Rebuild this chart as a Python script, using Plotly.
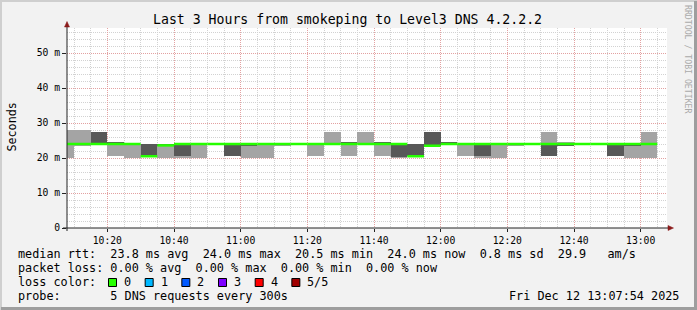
import plotly.graph_objects as go
import pandas as pd

# ---------------- data ----------------
bin_starts = pd.date_range("2025-12-12 10:05:00", periods=36, freq="5min")
# five sorted pings per 5-minute bin (ms)
ping1 = [20, 23.5, 24, 20.6, 20, 20.5, 20, 20, 20, 24, 20.6, 20, 20, 23.5, 24, 20.5, 24, 20.5,
         24, 20.5, 20, 20.5, 23.5, 24, 20.5, 20, 20, 23.5, 24, 20.5, 23.7, 24, 24, 20.5, 20, 20]
ping2 = [24, 24, 24, 24, 24, 20.5, 23.6, 20.6, 24, 24, 20.6, 23.5, 24, 24, 24, 24, 24, 24,
         24, 24, 20.3, 20.5, 23.5, 24, 24, 20.5, 24, 24, 24, 20.5, 23.7, 24, 24, 20.5, 23.5, 24]
median = [24, 24, 24, 24, 24, 20.5, 23.6, 24, 24, 24, 24, 24, 24, 24, 24, 24, 24, 24,
          24, 24, 24, 20.5, 23.5, 24, 24, 24, 24, 24, 24, 24, 24, 24, 24, 24, 24, 24]
ping4 = [24, 24, 27.5, 24.5, 24, 24, 24, 24, 24, 24, 24, 24, 24, 24, 24, 24, 24, 24.5,
         24, 24.5, 24, 24, 27.5, 24.6, 24, 24, 24, 24, 24, 24, 24, 24, 24, 24, 24, 24]
ping5 = [28, 28, 27.5, 24.5, 24, 24, 24, 24, 24, 24, 24, 24, 24, 24, 24, 24, 27.5, 24.5,
         27.5, 24.5, 24, 24, 27.5, 24.6, 24, 24, 24, 24, 24, 27.5, 24.7, 24, 24, 24, 24, 27.5]

x_tick_times = ["2025-12-12 10:20", "2025-12-12 10:40", "2025-12-12 11:00", "2025-12-12 11:20",
                "2025-12-12 11:40", "2025-12-12 12:00", "2025-12-12 12:20", "2025-12-12 12:40",
                "2025-12-12 13:00"]
x_tick_labels = ["10:20", "10:40", "11:00", "11:20", "11:40", "12:00", "12:20", "12:40", "13:00"]
y_tick_vals = [0, 10, 20, 30, 40, 50]
y_tick_labels = ["0", "10 m", "20 m", "30 m", "40 m", "50 m"]

title_text = "Last 3 Hours from smokeping to Level3 DNS 4.2.2.2"
legend_rows = [
    "median rtt:  23.8 ms avg  24.0 ms max  20.5 ms min  24.0 ms now  0.8 ms sd  29.9   am/s",
    "packet loss: 0.00 % avg  0.00 % max  0.00 % min  0.00 % now",
    "loss color:",
    "probe:       5 DNS requests every 300s",
]
loss_labels = ["0", "1", "2", "3", "4", "5/5"]
loss_colors = ["#26ff00", "#00b8ff", "#0059ff", "#7e00ff", "#ff0000", "#a10000"]
date_text = "Fri Dec 12 13:07:54 2025"

# ---------------- geometry helpers ----------------
W, H = 697, 310
L, R, T, B = 67, 30, 28, 82
PW, PH = W - L - R, H - T - B
def px(x):
    return (x - L) / PW
def py(y):
    return (H - B - y) / PH

FONT = "DejaVu Sans Mono"
LIGHT = "#a4a4a4"
DARK = "#585858"
GREEN = "#26ff00"
BIN_MS = 5 * 60 * 1000

fig = go.Figure()

fig.add_trace(go.Bar(
    x=bin_starts, y=[b - a for a, b in zip(ping1, ping5)], base=ping1,
    width=BIN_MS, offset=0, marker=dict(color=LIGHT, line=dict(width=0)),
    hoverinfo="skip"))
fig.add_trace(go.Bar(
    x=bin_starts, y=[b - a for a, b in zip(ping2, ping4)], base=ping2,
    width=BIN_MS, offset=0, marker=dict(color=DARK, line=dict(width=0)),
    hoverinfo="skip"))

mx, my = [], []
for t, m in zip(bin_starts, median):
    mx += [t, t + pd.Timedelta(minutes=5), None]
    my += [m, m, None]
fig.add_trace(go.Scatter(x=mx, y=my, mode="lines",
                         line=dict(color=GREEN, width=2.5), hoverinfo="skip"))

DOT = "1px,1px"
MAJOR = "rgba(240,120,120,0.55)"
MINOR = "#d2d2d2"
fig.update_layout(
    width=W, height=H, margin=dict(l=L, r=R, t=T, b=B),
    paper_bgcolor="#f2f2f2", plot_bgcolor="#ffffff",
    showlegend=False, barmode="overlay", bargap=0,
    xaxis=dict(
        type="date", range=["2025-12-12 10:07:54", "2025-12-12 13:07:54"],
        tickvals=x_tick_times, ticktext=x_tick_labels,
        tickfont=dict(family=FONT, size=9.7, color="#000"),
        ticks="outside", ticklen=3, tickcolor="#222", tickwidth=1,
        showgrid=True, gridcolor=MAJOR, griddash=DOT, gridwidth=1,
        minor=dict(dtick=BIN_MS, tick0="2025-12-12 10:00", showgrid=True,
                   gridcolor=MINOR, griddash=DOT, gridwidth=1),
        showline=False, zeroline=False, fixedrange=True,
    ),
    yaxis=dict(
        range=[0, PH / 3.5], tickvals=y_tick_vals, ticktext=y_tick_labels,
        tickfont=dict(family=FONT, size=9.7, color="#000"),
        ticks="outside", ticklen=4, tickcolor="#222", tickwidth=1,
        showgrid=True, gridcolor=MAJOR, griddash=DOT, gridwidth=1,
        minor=dict(dtick=2, showgrid=True, gridcolor=MINOR, griddash=DOT, gridwidth=1),
        showline=False, zeroline=False, fixedrange=True,
    ),
)

shapes = []
# 3D frame
shapes.append(dict(type="rect", xref="paper", yref="paper", x0=px(0), x1=px(2), y0=py(310), y1=py(0),
                   fillcolor="#cfcfcf", line=dict(width=0), layer="above"))
shapes.append(dict(type="rect", xref="paper", yref="paper", x0=px(0), x1=px(697), y0=py(2), y1=py(0),
                   fillcolor="#cfcfcf", line=dict(width=0), layer="above"))
shapes.append(dict(type="rect", xref="paper", yref="paper", x0=px(694), x1=px(697), y0=py(310), y1=py(1),
                   fillcolor="#9e9e9e", line=dict(width=0), layer="above"))
shapes.append(dict(type="rect", xref="paper", yref="paper", x0=px(1), x1=px(697), y0=py(310), y1=py(307),
                   fillcolor="#9e9e9e", line=dict(width=0), layer="above"))
# axis lines
shapes.append(dict(type="line", xref="paper", yref="paper", x0=px(63), x1=px(669), y0=0, y1=0,
                   line=dict(color="#222222", width=1), layer="above"))
shapes.append(dict(type="line", xref="paper", yref="paper", x0=0, x1=0, y0=py(231), y1=py(26),
                   line=dict(color="#222222", width=1), layer="above"))
# arrows
shapes.append(dict(type="path", xref="paper", yref="paper",
                   path=f"M {px(64.5)},{py(27)} L {px(67)},{py(21.5)} L {px(69.5)},{py(27)} Z",
                   fillcolor="#8b1a1a", line=dict(color="#8b1a1a", width=0.5), layer="above"))
shapes.append(dict(type="path", xref="paper", yref="paper",
                   path=f"M {px(668)},{py(225.5)} L {px(673.5)},{py(228)} L {px(668)},{py(230.5)} Z",
                   fillcolor="#8b1a1a", line=dict(color="#8b1a1a", width=0.5), layer="above"))
# loss colour boxes
for i, c in enumerate(loss_colors):
    x0 = 108.5 + i * 36.67
    shapes.append(dict(type="rect", xref="paper", yref="paper",
                       x0=px(x0), x1=px(x0 + 8), y0=py(286.5), y1=py(278.5),
                       fillcolor=c, line=dict(color="#000", width=1), layer="above"))
fig.update_layout(shapes=shapes)

NB = "\u00a0"
ann = []
ann.append(dict(text=title_text.replace(" ", NB), x=px(347.5), y=py(19), xref="paper", yref="paper",
                showarrow=False, xanchor="center", yanchor="middle",
                font=dict(family=FONT, size=13.2, color="#000")))
ann.append(dict(text="Seconds", x=px(11), y=py(127.5), xref="paper", yref="paper",
                showarrow=False, textangle=-90, xanchor="center", yanchor="middle",
                font=dict(family=FONT, size=11.7, color="#000")))
ann.append(dict(text="RRDTOOL / TOBI OETIKER".replace(" ", NB), x=px(688), y=py(59),
                xref="paper", yref="paper", showarrow=False, textangle=90,
                xanchor="center", yanchor="middle",
                font=dict(family=FONT, size=8.2, color="#aaaaaa")))
row_y = [254, 268, 282, 296]
for txt, yy in zip(legend_rows, row_y):
    ann.append(dict(text=txt.replace(" ", NB), x=px(15.5), y=py(yy), xref="paper", yref="paper",
                    showarrow=False, xanchor="left", yanchor="middle",
                    font=dict(family=FONT, size=11.8, color="#000")))
for i, lab in enumerate(loss_labels):
    ann.append(dict(text=lab, x=px(122 + i * 36.67), y=py(282), xref="paper", yref="paper",
                    showarrow=False, xanchor="left", yanchor="middle",
                    font=dict(family=FONT, size=11.8, color="#000")))
ann.append(dict(text=date_text.replace(" ", NB), x=px(681), y=py(296), xref="paper", yref="paper",
                showarrow=False, xanchor="right", yanchor="middle",
                font=dict(family=FONT, size=11.8, color="#000")))
fig.update_layout(annotations=ann)

fig.write_html("out.html")
